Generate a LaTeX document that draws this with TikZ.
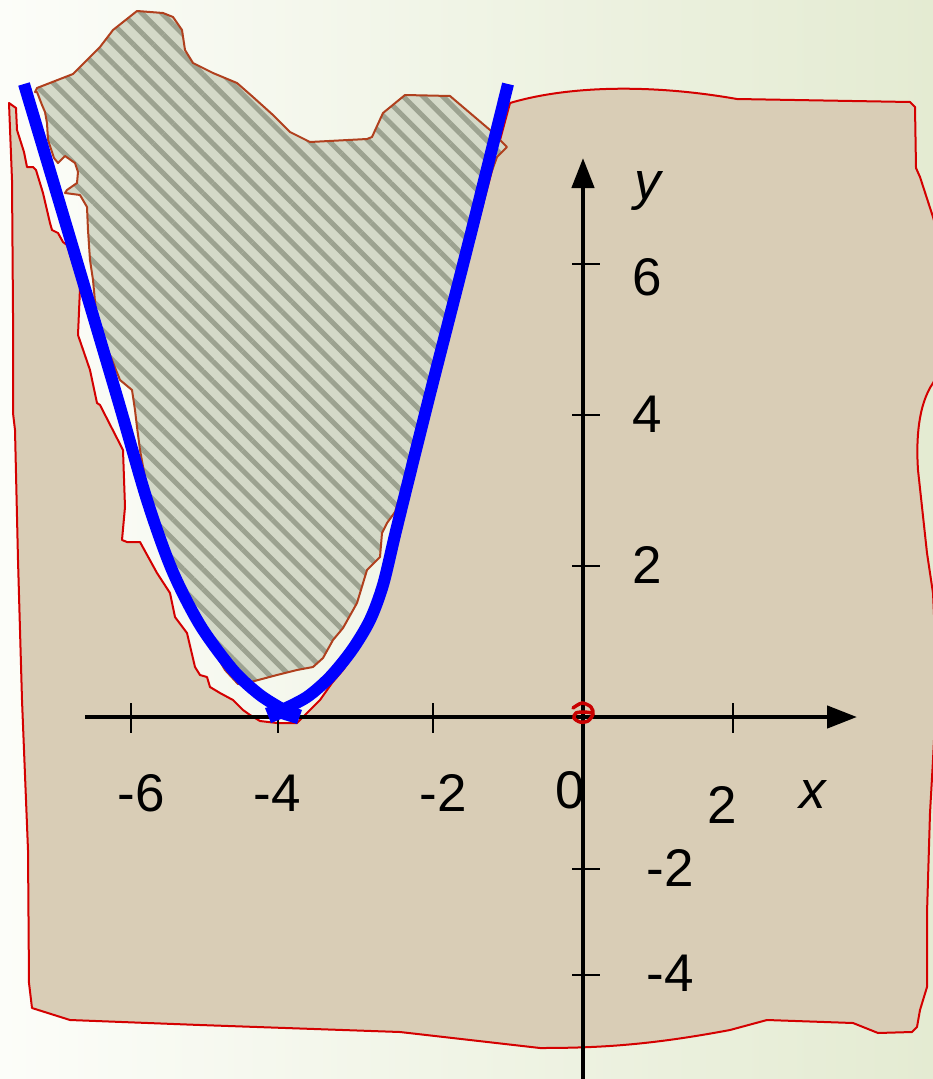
\documentclass[tikz,border=0pt]{standalone}
\usepackage{fontspec}
\setmainfont{Liberation Sans}
\usetikzlibrary{arrows.meta,patterns.meta}
\definecolor{paper}{HTML}{D9CDB6}
\definecolor{paperedge}{HTML}{D40000}
\definecolor{hatchedge}{HTML}{B0401E}
\definecolor{hatchlight}{HTML}{D4D9C8}
\definecolor{hatchdark}{HTML}{9CA290}
\definecolor{bgleft}{HTML}{FCFDF9}
\definecolor{bgright}{HTML}{E4EBD2}
\definecolor{curve}{HTML}{0000FF}
\definecolor{marker}{HTML}{C80000}
\tikzset{
  axisline/.style={line width=4.5pt,-{Triangle[length=30pt,width=22pt]}},
  tickmark/.style={line width=1.6pt},
  lbl/.style={inner sep=0pt,font=\fontsize{53}{60}\selectfont},
  paperstyle/.style={fill=paper,draw=paperedge,line width=2pt,line join=round},
  hatchstyle/.style={draw=hatchedge,line width=2pt,line join=round},
  bluecurve/.style={draw=curve,line width=12pt,line join=round},
}
\begin{document}
\begin{tikzpicture}[x=1pt,y=-1pt]
\useasboundingbox (0,0) rectangle (933,1079);
\clip (0,0) rectangle (933,1079);
\shade[left color=bgleft,right color=bgright] (0,0) rectangle (933,1079);
% paper sheet
\path[paperstyle] (9,103) -- (16,108) -- (17,130) -- (24,152) -- (27,167) -- (33,167) -- (36,170) -- (43,193) -- (50,223) -- (52,230) -- (58,233) -- (63,242) -- (67,245) -- (78,280) -- (80,288) -- (78,335) -- (90,370) -- (97,403) -- (100,405) -- (123,450) -- (125,507) -- (122,540) -- (127,542) -- (140,542) -- (157,573) -- (170,593) -- (175,617) -- (187,633) -- (195,667) -- (200,675) -- (207,677) -- (210,687) -- (220,693) -- (233,700) -- (243,710) -- (250,715) -- (260,721) -- (277,723) -- (297,723) -- (303,717) -- (310,710) -- (320,700) -- (332,683) -- (343,670) -- (357,650) -- (367,633) -- (378,610) -- (387,585) -- (395,555) -- (402,525) -- (414,475) -- (433,400) -- (475,235) -- (500,140) -- (510,103)
  .. controls (560,88) and (640,82) .. (737,99) -- (910,102) -- (915,107) -- (916,168) -- (920,177) -- (933,217) -- (945,260) -- (945,360) -- (933,383)
  .. controls (918,405) and (916,440) .. (918,470) -- (927,553) -- (933,593) -- (937,680) -- (933,760) -- (930,813) -- (927,913) -- (927,987) -- (920,1010) -- (917,1027) -- (912,1032) -- (878,1033) -- (853,1023) -- (767,1020) -- (730,1030)
  .. controls (650,1045) and (600,1048) .. (540,1048) -- (400,1032) -- (200,1025) -- (70,1020) -- (32,1008) -- (29,983) -- (28,850) -- (22,700) -- (18,560) -- (15,430) -- (13,413) -- (13,313) -- (12,180) -- cycle;
% hatched region
\path[fill=hatchlight] (35,92) -- (37,88) -- (73,74) -- (100,47) -- (113,30) -- (137,11) -- (163,13) -- (173,17) -- (182,30) -- (185,50) -- (193,63) -- (213,73) -- (237,83) -- (253,97) -- (273,115) -- (290,132) -- (310,142) -- (367,139) -- (372,137) -- (383,113) -- (405,95) -- (450,96) -- (490,130) -- (507,147) -- (497,157) -- (470,230) -- (430,385) -- (425,410) -- (408,470) -- (395,512) -- (387,523) -- (382,533) -- (380,557) -- (367,570) -- (357,603) -- (343,628) -- (333,640) -- (323,658) -- (313,667) -- (297,670) -- (277,675) -- (247,683) -- (238,684) -- (225,670) -- (200,627) -- (170,567) -- (150,505) -- (140,450) -- (137,427) -- (135,410) -- (132,390) -- (120,380) -- (97,323) -- (93,280) -- (90,260) -- (88,230) -- (87,207) -- (80,195) -- (65,193) -- (67,190) -- (77,183) -- (78,172) -- (75,163) -- (65,156) -- (58,163) -- (54,158) -- (48,140) -- (47,123) -- (45,112) -- (42,105) -- (37,92) -- cycle;
\path[pattern={Lines[angle=-45,distance=14pt,line width=5pt]},pattern color=hatchdark,hatchstyle] (35,92) -- (37,88) -- (73,74) -- (100,47) -- (113,30) -- (137,11) -- (163,13) -- (173,17) -- (182,30) -- (185,50) -- (193,63) -- (213,73) -- (237,83) -- (253,97) -- (273,115) -- (290,132) -- (310,142) -- (367,139) -- (372,137) -- (383,113) -- (405,95) -- (450,96) -- (490,130) -- (507,147) -- (497,157) -- (470,230) -- (430,385) -- (425,410) -- (408,470) -- (395,512) -- (387,523) -- (382,533) -- (380,557) -- (367,570) -- (357,603) -- (343,628) -- (333,640) -- (323,658) -- (313,667) -- (297,670) -- (277,675) -- (247,683) -- (238,684) -- (225,670) -- (200,627) -- (170,567) -- (150,505) -- (140,450) -- (137,427) -- (135,410) -- (132,390) -- (120,380) -- (97,323) -- (93,280) -- (90,260) -- (88,230) -- (87,207) -- (80,195) -- (65,193) -- (67,190) -- (77,183) -- (78,172) -- (75,163) -- (65,156) -- (58,163) -- (54,158) -- (48,140) -- (47,123) -- (45,112) -- (42,105) -- (37,92) -- cycle;
% axes
\coordinate (xs) at (85,717);
\coordinate (xe) at (857,717);
\coordinate (ys) at (583,1085);
\coordinate (ye) at (583,158);
\draw[axisline] (xs) -- (xe);
\draw[axisline] (ys) -- (ye);
% ticks
\foreach \tx/\tn in {131/a,278/b,433/c,733/d}{
  \coordinate (xt\tn1) at (\tx,703);
  \coordinate (xt\tn2) at (\tx,733);
  \draw[tickmark] (xt\tn1) -- (xt\tn2);
}
\foreach \ty/\tn in {264/a,415/b,566/c,869/d,975/e}{
  \coordinate (yt\tn1) at (572,\ty);
  \coordinate (yt\tn2) at (600,\ty);
  \draw[tickmark] (yt\tn1) -- (yt\tn2);
}
% blue curve
\draw[bluecurve] plot[smooth] coordinates {(24,84) (70,238) (118,400) (147,500) (172,570) (200,625) (233,670) (260,695) (284,710)};
\draw[bluecurve] plot[smooth] coordinates {(282,710) (307,697) (330,677) (352,650) (370,620) (383,585) (395,535) (411,470) (431,390) (470,237) (508,84)};
\fill[curve] (265,708) -- (271,723) -- (281,719) -- (297,724) -- (302,710) -- (283,703) -- cycle;
% origin marker
\draw[marker,line width=3.5pt,line cap=round] plot[smooth] coordinates {(573,708) (582,703) (591,707) (593,714) (588,721) (580,722) (574,718) (576,713) (584,712) (593,713)};
% labels
\node[lbl] (lxm6) at (141,793) {-6};
\node[lbl] (lxm4) at (277,793) {-4};
\node[lbl] (lxm2) at (443,793) {-2};
\node[lbl] (lx0) at (570,790) {0};
\node[lbl] (lx2) at (722,805) {2};
\node[lbl,font=\fontsize{53}{60}\selectfont\itshape] (lx) at (813,794) {x};
\node[lbl,font=\fontsize{53}{60}\selectfont\itshape] (ly) at (648,191) {y};
\node[lbl] (ly6) at (647,277) {6};
\node[lbl] (ly4) at (647,414) {4};
\node[lbl] (ly2) at (647,565) {2};
\node[lbl] (lym2) at (670,868) {-2};
\node[lbl] (lym4) at (670,973) {-4};
\end{tikzpicture}
\end{document}
